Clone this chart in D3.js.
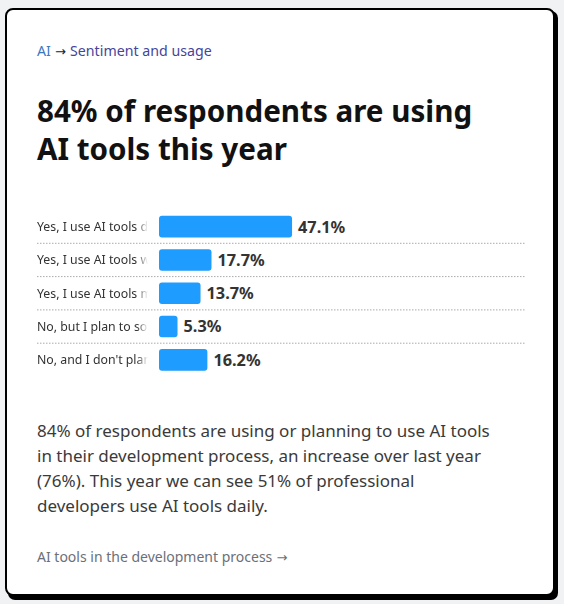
<!DOCTYPE html>
<html>
<head>
<meta charset="utf-8">
<script src="https://cdn.jsdelivr.net/npm/d3@7"></script>
<style>
  html, body { margin: 0; padding: 0; background: #f1f2f3; }
  svg { display: block; }
</style>
</head>
<body>
<svg id="chart"></svg>
<script>
// chart data
var answers = [
    "Yes, I use AI tools daily",
    "Yes, I use AI tools weekly",
    "Yes, I use AI tools monthly or infrequently",
    "No, but I plan to soon",
    "No, and I don't plan to"
]
var shares = [47.1, 17.7, 13.7, 5.3, 16.2]

var breadcrumb = ["AI", " \u2192 ", "Sentiment and usage"]
var titleLines = ["84% of respondents are using", "AI tools this year"]
var bodyLines = [
    "84% of respondents are using or planning to use AI tools",
    "in their development process, an increase over last year",
    "(76%). This year we can see 51% of professional",
    "developers use AI tools daily."
]
var footerLink = ["AI tools in the development process", " \u2192"]

var screen = {width: 564, height: 604}
var font = "'Noto Sans', 'Open Sans', sans-serif"

var svg = d3.select("#chart")
    .attr("width", screen.width)
    .attr("height", screen.height)

var defs = svg.append("defs")

// card with hard shadow
svg.append("rect")
    .attr("x", 8).attr("y", 11)
    .attr("width", 550).attr("height", 589)
    .attr("rx", 7)
    .attr("fill", "#000")
svg.append("rect")
    .attr("x", 6).attr("y", 9)
    .attr("width", 548).attr("height", 586)
    .attr("rx", 7)
    .attr("fill", "#fff")
    .attr("stroke", "#000")
    .attr("stroke-width", 2)

var left = 37

// breadcrumb
var crumb = svg.append("text")
    .attr("x", left).attr("y", 56)
    .attr("font-family", font)
    .attr("font-size", 14.2)
crumb.selectAll("tspan")
    .data(breadcrumb)
    .enter()
    .append("tspan")
    .attr("fill", function(d, i) { return ["#3a78c4", "#222", "#45459a"][i] })
    .attr("font-family", function(d, i) { return i == 1 ? "'DejaVu Sans', sans-serif" : font })
    .attr("font-size", function(d, i) { return i == 1 ? 13 : 14.2 })
    .attr("xml:space", "preserve")
    .text(function(d) { return d })

// title
svg.append("g")
    .selectAll("text")
    .data(titleLines)
    .enter()
    .append("text")
    .attr("x", left)
    .attr("y", function(d, i) { return 122 + i * 38 })
    .attr("font-family", font)
    .attr("font-weight", "bold")
    .attr("font-size", 29.6)
    .attr("fill", "#111")
    .text(function(d) { return d })

// bar chart
var barX = 159
var rowTop = 210
var rowH = 33.3
var labelWidth = 111

var yscale = d3.scaleBand()
    .domain(answers)
    .range([rowTop, rowTop + rowH * answers.length])
    .paddingInner(0.35)
    .paddingOuter(0.175)

var xscale = d3.scaleLinear()
    .domain([0, 100])
    .range([4, 278])

var rows = svg.append("g")

// dotted separators
rows.selectAll("line")
    .data(answers.slice(1))
    .enter()
    .append("line")
    .attr("x1", left).attr("x2", 525)
    .attr("y1", function(d) { return yscale(d) - yscale.step() * yscale.paddingInner() / 2 })
    .attr("y2", function(d) { return yscale(d) - yscale.step() * yscale.paddingInner() / 2 })
    .attr("stroke", "#aaa")
    .attr("stroke-width", 1)
    .attr("stroke-dasharray", "1.5,1.5")

// labels are cut off with a fade at the right
var grad = defs.append("linearGradient")
    .attr("id", "fade")
    .attr("x1", 0).attr("x2", 1)
grad.append("stop").attr("offset", "0.9").attr("stop-color", "#fff")
grad.append("stop").attr("offset", "1").attr("stop-color", "#fff").attr("stop-opacity", 0)
defs.append("mask")
    .attr("id", "labelMask")
    .attr("maskUnits", "userSpaceOnUse")
    .append("rect")
    .attr("x", left).attr("y", rowTop)
    .attr("width", labelWidth).attr("height", rowH * answers.length)
    .attr("fill", "url(#fade)")

var labels = rows.append("g")
    .attr("mask", "url(#labelMask)")
    .selectAll("text")
    .data(answers)
    .enter()
    .append("text")
    .attr("x", left)
    .attr("y", function(d) { return yscale(d) + yscale.bandwidth() / 2 })
    .attr("dy", "0.35em")
    .attr("font-family", font)
    .attr("font-size", 12.3)
    .attr("fill", "#333")
    .text(function(d) { return d })

// clip the label like overflow:hidden, keeping the full answer as a tooltip
labels.each(function(d)
{
    var t = d3.select(this)
    var s = d
    while (s.length > 1 && this.getComputedTextLength() > labelWidth + 6)
    {
        s = s.slice(0, -1)
        t.text(s)
    }
    t.append("title").text(d)
})

var data = answers.map(function(a, i) { return {answer: a, share: shares[i]} })

rows.selectAll("rect")
    .data(data)
    .enter()
    .append("rect")
    .attr("x", barX)
    .attr("y", function(d) { return yscale(d.answer) })
    .attr("width", function(d) { return xscale(d.share) })
    .attr("height", yscale.bandwidth())
    .attr("rx", 3)
    .attr("fill", "#1f9cff")

rows.selectAll("text.value")
    .data(data)
    .enter()
    .append("text")
    .attr("class", "value")
    .attr("x", function(d) { return barX + xscale(d.share) + 6 })
    .attr("y", function(d) { return yscale(d.answer) + yscale.bandwidth() / 2 })
    .attr("dy", "0.36em")
    .attr("font-family", font)
    .attr("font-weight", "bold")
    .attr("font-size", 16.3)
    .attr("fill", "#333")
    .text(function(d) { return d.share.toFixed(1) + "%" })

// description
svg.append("g")
    .selectAll("text")
    .data(bodyLines)
    .enter()
    .append("text")
    .attr("x", left)
    .attr("y", function(d, i) { return 437 + i * 25 })
    .attr("font-family", font)
    .attr("font-size", 17)
    .attr("fill", "#3a3a3a")
    .text(function(d) { return d })

// footer link
var foot = svg.append("text")
    .attr("x", left).attr("y", 562)
    .attr("fill", "#6b7078")
foot.selectAll("tspan")
    .data(footerLink)
    .enter()
    .append("tspan")
    .attr("font-family", function(d, i) { return i == 1 ? "'DejaVu Sans', sans-serif" : font })
    .attr("font-size", function(d, i) { return i == 1 ? 13 : 14 })
    .attr("xml:space", "preserve")
    .text(function(d) { return d })
</script>
</body>
</html>
